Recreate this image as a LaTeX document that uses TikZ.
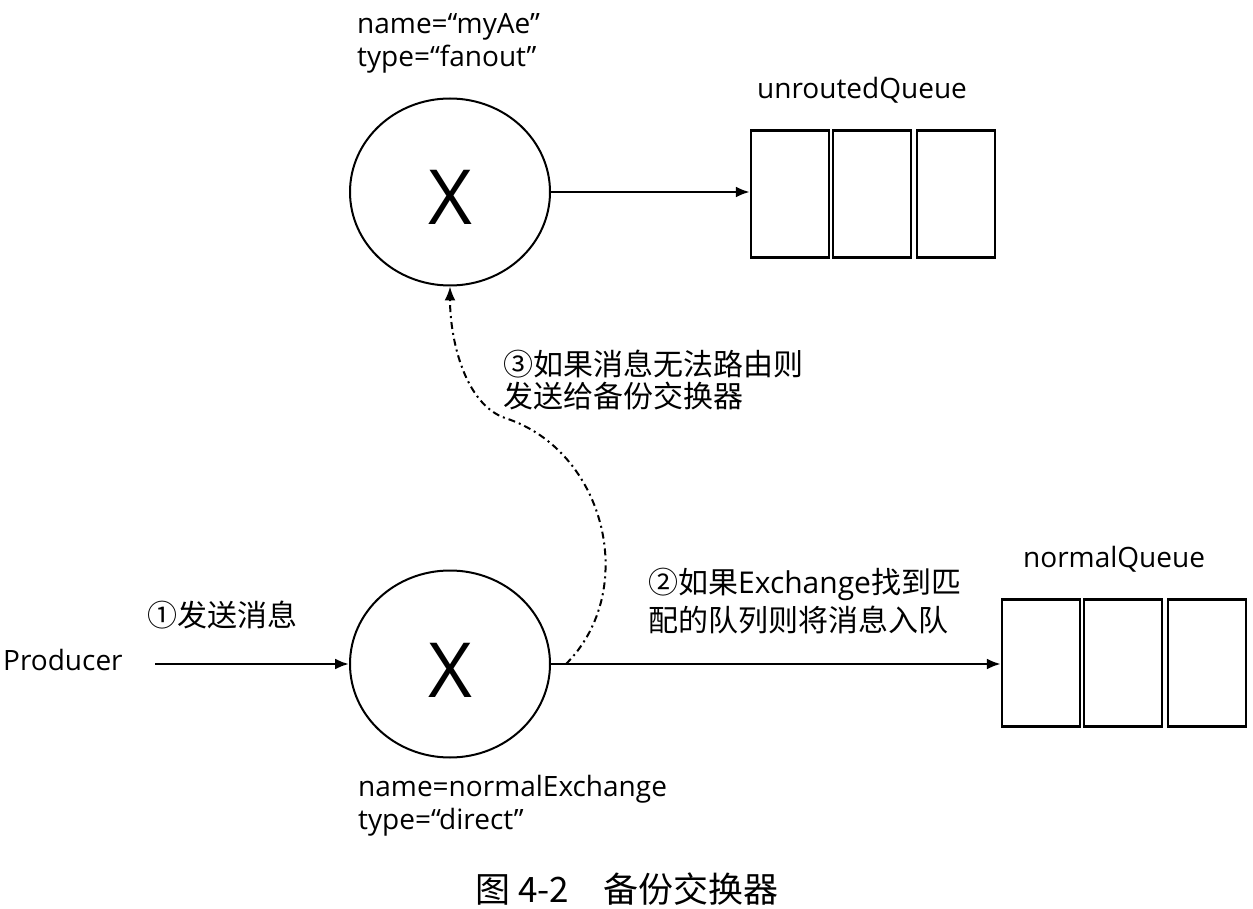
\documentclass[tikz,border=0pt]{standalone}
\usepackage{fontspec}
\setmainfont{Open Sans}
\newfontfamily\cjk{Noto Sans CJK SC}
\usetikzlibrary{shapes.geometric,arrows.meta}
\begin{document}
\begin{tikzpicture}[x=1pt,y=-1pt,
  lbl/.style={font=\fontsize{28}{33}\selectfont, anchor=base west, inner sep=0},
  cn/.style={font=\fontsize{30}{36}\selectfont\cjk, anchor=base west, inner sep=0},
  exch/.style={draw, ellipse, line width=2pt, minimum width=200pt, minimum height=187pt,
    inner sep=0, text height=66pt, text depth=0pt, font=\fontsize{76}{80}\selectfont},
  qbox/.style={draw, line width=2.5pt, minimum width=78pt, minimum height=127pt, inner sep=0},
  arr/.style={line width=2.5pt, -{Latex[length=14pt,width=11pt]}},
  dd/.style={line width=2pt, dash pattern=on 7pt off 4pt on 2pt off 4pt, -{Latex[length=14pt,width=11pt]}}
]
\useasboundingbox (0,0) rectangle (1253,909);

% exchanges
\node[exch] (ae) at (450,192) {X};
\node[exch] (ne) at (450,664) {X};

% queues
\node[qbox] (u1) at (790,194) {};
\node[qbox] (u2) at (872,194) {};
\node[qbox] (u3) at (956,194) {};
\node[qbox] (n1) at (1041,663) {};
\node[qbox] (n2) at (1123,663) {};
\node[qbox] (n3) at (1207,663) {};

% labels
\node[lbl] (aename) at (357,34) {name=“myAe”};
\node[lbl] (aetype) at (357,67) {type=“fanout”};
\node[lbl] (uq) at (757,99) {unroutedQueue};
\node[lbl] (nq) at (1023,567) {normalQueue};
\node[lbl] (prod) at (3,670) {Producer};
\node[lbl] (nename) at (358,796) {name=normalExchange};
\node[lbl] (netype) at (358,829) {type=“direct”};

\node[cn] (s1) at (147,626) {①发送消息};
\node[cn] (s2a) at (648,593) {②如果{\normalfont Exchange}找到匹};
\node[cn] (s2b) at (648,631) {配的队列则将消息入队};
\node[cn] (s3a) at (503,375) {③如果消息无法路由则};
\node[cn] (s3b) at (503,407) {发送给备份交换器};

\node[anchor=base west, inner sep=0, font=\fontsize{35}{40}\selectfont\cjk] (cap) at (475,902) {图 4-2\hspace{34pt}备份交换器};

% connectors
\coordinate (ps) at (155,664);
\coordinate (ds) at (566,664);
\draw[arr] (ps) -- (ne.west);
\draw[arr] (ae.east) -- (ae.east -| u1.west);
\draw[arr] (ne.east) -- (ne.east -| n1.west);
\draw[dd] (ds) .. controls (640,590) and (605,450) .. (505,418) .. controls (465,404) and (450,340) .. (ae.south);
\end{tikzpicture}
\end{document}
